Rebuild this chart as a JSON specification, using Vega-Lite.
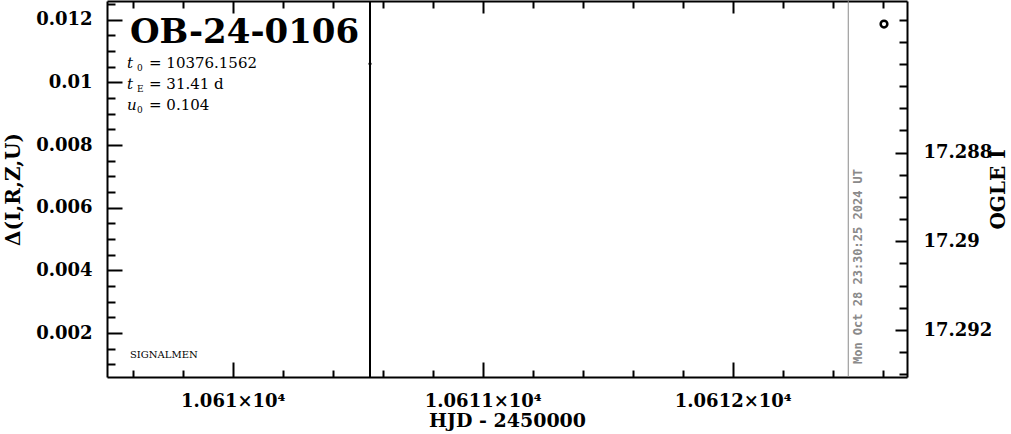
{
  "$schema": "https://vega.github.io/schema/vega-lite/v6.json",
  "width": 800,
  "height": 376,
  "autosize": {"type": "none"},
  "padding": {"left": 107, "top": 1, "right": 104, "bottom": 57},
  "background": "white",
  "config": {
    "view": {"stroke": null},
    "axis": {
      "domainColor": "black", "domainWidth": 2, "tickColor": "black", "tickWidth": 2,
      "grid": false, "labelFont": "DejaVu Serif", "labelFontWeight": "bold", "labelFontSize": 18,
      "labelColor": "black", "titleFont": "DejaVu Serif", "titleFontWeight": "bold",
      "titleFontSize": 20, "titleColor": "black", "labelOverlap": false, "labelFlush": false
    }
  },
  "datasets": {
    "marker": [{"hjd": 10610.549, "delta": 0.010595}],
    "now": [{"hjd": 10612.462}],
    "stamp": [{"hjd": 10612.501, "delta": 0.001014, "text": "Mon Oct 28 23:30:25 2024 UT"}],
    "event": [{"hjd": 10609.589, "delta": 0.011263, "text": "OB-24-0106"}],
    "params": [
      {"hjd": 10609.577, "delta": 0.010467, "sym": "t", "sub": "0", "val": "= 10376.1562"},
      {"hjd": 10609.577, "delta": 0.009799, "sym": "t", "sub": "E", "val": "= 31.41 d"},
      {"hjd": 10609.577, "delta": 0.009131, "sym": "u", "sub": "0", "val": "= 0.104"}
    ],
    "credit": [{"hjd": 10609.589, "delta": 0.001205, "text": "SIGNALMEN"}],
    "ogle": [{"hjd": 10612.605, "mag": 17.2851}]
  },
  "layer": [
    {
      "data": {"name": "marker"},
      "mark": {"type": "point", "filled": true, "color": "black", "size": 10, "opacity": 1},
      "encoding": {
        "x": {
          "field": "hjd", "type": "quantitative",
          "scale": {"domain": [10609.497, 10612.697], "nice": false, "zero": false},
          "axis": {
            "orient": "bottom", "title": "HJD - 2450000", "titleFontSize": 19,
            "values": [10609.6,10609.8,10610,10610.2,10610.4,10610.6,10610.8,10611,10611.2,10611.4,10611.6,10611.8,10612,10612.2,10612.4,10612.6],
            "labelExpr": "indexof([10610,10611,10612], datum.value) >= 0 ? (datum.value/10000) + '×10⁴' : ''",
            "tickSize": {"condition": {"test": "indexof([10610,10611,10612], datum.value) >= 0", "value": -15}, "value": -7},
            "labelPadding": 30, "titlePadding": -7
          }
        },
        "y": {
          "field": "delta", "type": "quantitative",
          "scale": {"domain": [0.0006, 0.0126], "nice": false, "zero": false},
          "axis": {
            "orient": "left", "title": "Δ(I,R,Z,U)",
            "values": [0.001,0.0015,0.002,0.0025,0.003,0.0035,0.004,0.0045,0.005,0.0055,0.006,0.0065,0.007,0.0075,0.008,0.0085,0.009,0.0095,0.01,0.0105,0.011,0.0115,0.012,0.0125],
            "labelExpr": "indexof([0.002,0.004,0.006,0.008,0.01,0.012], datum.value) >= 0 ? '' + datum.value : ''",
            "tickSize": {"condition": {"test": "indexof([0.002,0.004,0.006,0.008,0.01,0.012], datum.value) >= 0", "value": -15}, "value": -8},
            "labelPadding": 30, "titlePadding": 12
          }
        }
      }
    },
    {
      "data": {"name": "ogle"},
      "mark": {"type": "point", "filled": false, "color": "black", "size": 45, "strokeWidth": 2.5, "opacity": 1},
      "encoding": {
        "x": {
          "field": "hjd", "type": "quantitative",
          "scale": {"domain": [10609.497, 10612.697], "nice": false, "zero": false},
          "axis": {
            "orient": "top", "title": null, "labels": false,
            "values": [10609.6,10609.8,10610,10610.2,10610.4,10610.6,10610.8,10611,10611.2,10611.4,10611.6,10611.8,10612,10612.2,10612.4,10612.6],
            "tickSize": {"condition": {"test": "indexof([10610,10611,10612], datum.value) >= 0", "value": -12}, "value": -7}
          }
        },
        "y": {
          "field": "mag", "type": "quantitative",
          "scale": {"domain": [17.28458, 17.29306], "reverse": true, "nice": false, "zero": false},
          "axis": {
            "orient": "right", "title": "OGLE I", "titleAngle": 270,
            "values": [17.285,17.2855,17.286,17.2865,17.287,17.2875,17.288,17.2885,17.289,17.2895,17.29,17.2905,17.291,17.2915,17.292,17.2925,17.293],
            "labelExpr": "indexof([17.288,17.29,17.292], datum.value) >= 0 ? '' + datum.value : ''",
            "tickSize": {"condition": {"test": "indexof([17.288,17.29,17.292], datum.value) >= 0", "value": -12}, "value": -8},
            "labelPadding": 28, "titlePadding": 17
          }
        }
      }
    },
    {
      "data": {"name": "marker"},
      "mark": {"type": "rule", "color": "black", "strokeWidth": 2},
      "encoding": {
        "x": {"field": "hjd", "type": "quantitative", "axis": null, "scale": {"domain": [10609.497, 10612.697], "nice": false, "zero": false}}
      }
    },
    {
      "data": {"name": "now"},
      "mark": {"type": "rule", "color": "#8a8a8a", "strokeWidth": 1},
      "encoding": {
        "x": {"field": "hjd", "type": "quantitative", "axis": null, "scale": {"domain": [10609.497, 10612.697], "nice": false, "zero": false}}
      }
    },
    {
      "data": {"name": "stamp"},
      "mark": {"type": "text", "angle": 270, "align": "left", "baseline": "middle", "font": "DejaVu Sans Mono", "fontWeight": "bold", "fontSize": 12, "color": "#8a8a8a"},
      "encoding": {
        "x": {"field": "hjd", "type": "quantitative", "axis": null, "scale": {"domain": [10609.497, 10612.697], "nice": false, "zero": false}},
        "y": {"field": "delta", "type": "quantitative", "axis": null, "scale": {"domain": [0.0006, 0.0126], "nice": false, "zero": false}},
        "text": {"field": "text"}
      }
    },
    {
      "data": {"name": "event"},
      "mark": {"type": "text", "align": "left", "baseline": "alphabetic", "font": "DejaVu Serif", "fontWeight": "bold", "fontSize": 34, "color": "black"},
      "encoding": {
        "x": {"field": "hjd", "type": "quantitative", "axis": null, "scale": {"domain": [10609.497, 10612.697], "nice": false, "zero": false}},
        "y": {"field": "delta", "type": "quantitative", "axis": null, "scale": {"domain": [0.0006, 0.0126], "nice": false, "zero": false}},
        "text": {"field": "text"}
      }
    },
    {
      "data": {"name": "params"},
      "mark": {"type": "text", "align": "left", "baseline": "alphabetic", "font": "DejaVu Serif", "fontStyle": "italic", "fontSize": 15, "color": "black"},
      "encoding": {
        "x": {"field": "hjd", "type": "quantitative", "axis": null, "scale": {"domain": [10609.497, 10612.697], "nice": false, "zero": false}},
        "y": {"field": "delta", "type": "quantitative", "axis": null, "scale": {"domain": [0.0006, 0.0126], "nice": false, "zero": false}},
        "text": {"field": "sym"}
      }
    },
    {
      "data": {"name": "params"},
      "mark": {"type": "text", "align": "left", "baseline": "alphabetic", "font": "DejaVu Serif", "fontSize": 9, "dx": 10, "dy": 3, "color": "black"},
      "encoding": {
        "x": {"field": "hjd", "type": "quantitative", "axis": null, "scale": {"domain": [10609.497, 10612.697], "nice": false, "zero": false}},
        "y": {"field": "delta", "type": "quantitative", "axis": null, "scale": {"domain": [0.0006, 0.0126], "nice": false, "zero": false}},
        "text": {"field": "sub"}
      }
    },
    {
      "data": {"name": "params"},
      "mark": {"type": "text", "align": "left", "baseline": "alphabetic", "font": "DejaVu Serif", "fontSize": 15, "dx": 22, "color": "black"},
      "encoding": {
        "x": {"field": "hjd", "type": "quantitative", "axis": null, "scale": {"domain": [10609.497, 10612.697], "nice": false, "zero": false}},
        "y": {"field": "delta", "type": "quantitative", "axis": null, "scale": {"domain": [0.0006, 0.0126], "nice": false, "zero": false}},
        "text": {"field": "val"}
      }
    },
    {
      "data": {"name": "credit"},
      "mark": {"type": "text", "align": "left", "baseline": "alphabetic", "font": "DejaVu Serif", "fontSize": 10, "color": "black"},
      "encoding": {
        "x": {"field": "hjd", "type": "quantitative", "axis": null, "scale": {"domain": [10609.497, 10612.697], "nice": false, "zero": false}},
        "y": {"field": "delta", "type": "quantitative", "axis": null, "scale": {"domain": [0.0006, 0.0126], "nice": false, "zero": false}},
        "text": {"field": "text"}
      }
    }
  ],
  "resolve": {"scale": {"x": "independent", "y": "independent"}, "axis": {"x": "independent", "y": "independent"}}
}
